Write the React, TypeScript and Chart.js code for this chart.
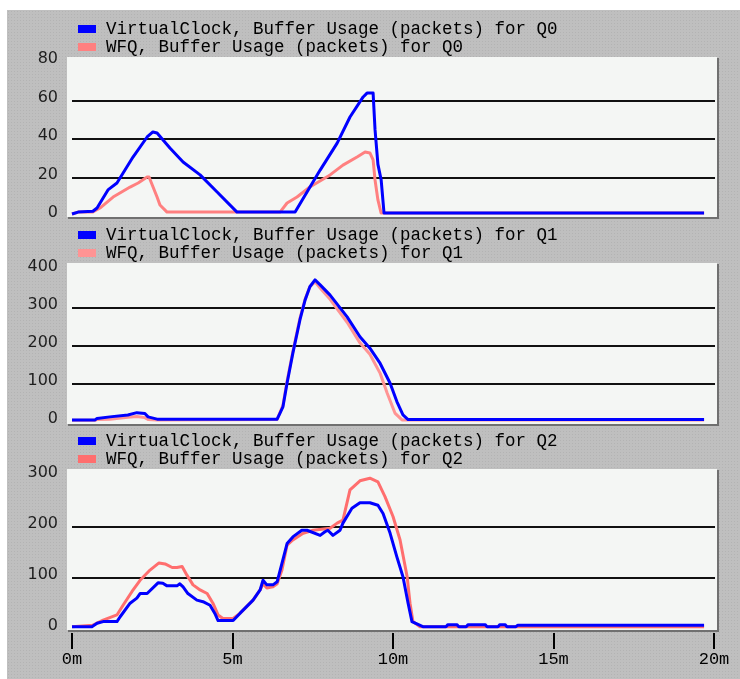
import React, { useEffect, useRef } from 'react';
import { Chart, registerables } from 'chart.js';

Chart.register(...registerables);

const MONO = '"Liberation Mono", "DejaVu Sans Mono", monospace';
const SANS = '"DejaVu Sans", "Liberation Sans", sans-serif';

// ---------- X axis (minutes) ----------
const xTickValues = [0, 5, 10, 15, 20];
const xMin = -0.156;
const xMax = 20.093;

// ---------- Q0 ----------
const q0Label = ['VirtualClock, Buffer Usage (packets) for Q0', 'WFQ, Buffer Usage (packets) for Q0'];
const q0YTicks = [0, 20, 40, 60, 80];
const q0VcTime = [0, 0.19, 0.65, 0.78, 1.12, 1.4, 1.9, 2.34, 2.52, 2.65, 3.05, 3.46, 3.99, 4.52, 5.14, 6.95, 7.73, 8.26, 8.66, 9.07, 9.19, 9.38, 9.44, 9.53, 9.63, 9.72, 19.69];
const q0VcValue = [1.2, 2.2, 2.6, 4.3, 13.7, 17.3, 30.8, 41.2, 43.8, 43.3, 35.5, 28.2, 21.5, 12.6, 2.2, 2.2, 24, 38, 51.6, 62, 64, 64, 45, 27, 19, 1.7, 1.7];
const q0WfqTime = [0, 0.19, 0.65, 0.87, 1.28, 1.81, 2.06, 2.34, 2.4, 2.65, 2.74, 2.96, 6.48, 6.7, 7.01, 7.41, 8.04, 8.44, 8.88, 9.13, 9.28, 9.38, 9.44, 9.53, 9.63, 19.69];
const q0WfqValue = [1.2, 2.2, 2.2, 4.3, 10, 15.2, 17.3, 20.4, 20.4, 10, 5.9, 2.2, 2.2, 6.9, 10, 15.2, 21.5, 26.6, 30.8, 33.4, 32.9, 29.3, 18.9, 8.5, 1.7, 1.7];

// ---------- Q1 ----------
const q1Label = ['VirtualClock, Buffer Usage (packets) for Q1', 'WFQ, Buffer Usage (packets) for Q1'];
const q1YTicks = [0, 100, 200, 300, 400];
const q1VcTime = [0, 0.72, 0.78, 1.18, 1.74, 2.02, 2.27, 2.37, 2.65, 6.39, 6.48, 6.57, 6.7, 6.88, 7.1, 7.26, 7.41, 7.57, 7.73, 8.04, 8.57, 8.97, 9.28, 9.6, 9.91, 10.12, 10.31, 10.47, 19.69];
const q1VcValue = [6, 6, 10, 14, 19, 25, 23, 14, 8, 8, 24, 40, 103, 181, 268, 320, 355, 373, 360, 333, 276, 224, 194, 154, 102, 54, 19, 7, 7];
const q1WfqTime = [0, 0.72, 0.78, 1.18, 1.74, 2.02, 2.27, 2.37, 2.65, 6.39, 6.48, 6.57, 6.7, 6.88, 7.1, 7.26, 7.41, 7.57, 7.73, 8.04, 8.57, 8.97, 9.28, 9.6, 9.82, 10.06, 10.28, 19.69];
const q1WfqValue = [5, 5, 7, 8, 13, 15, 12, 7, 6, 7, 26, 44, 108, 185, 272, 322, 355, 368, 352, 322, 262, 208, 178, 128, 76, 24, 6, 6];

// ---------- Q2 ----------
const q2Label = ['VirtualClock, Buffer Usage (packets) for Q2', 'WFQ, Buffer Usage (packets) for Q2'];
const q2YTicks = [0, 100, 200, 300];
const q2VcTime = [0, 0.62, 0.78, 0.97, 1.4, 1.5, 1.81, 2.02, 2.12, 2.34, 2.68, 2.83, 2.96, 3.27, 3.36, 3.46, 3.61, 3.89, 4.08, 4.3, 4.45, 4.55, 5.02, 5.23, 5.64, 5.86, 5.95, 6.07, 6.26, 6.39, 6.54, 6.7, 6.88, 7.16, 7.32, 7.73, 7.88, 7.97, 8.13, 8.35, 8.44, 8.72, 8.97, 9.28, 9.53, 9.69, 9.91, 10.12, 10.31, 10.47, 10.59, 10.93, 11.65, 11.71, 11.99, 12.05, 12.28, 12.34, 12.87, 12.93, 13.27, 13.33, 13.49, 13.55, 13.83, 13.89, 19.69];
const q2VcValue = [4, 4, 10.6, 14, 14, 23.5, 50, 60, 69, 69, 90, 89, 84, 84, 88, 82, 69, 56, 53, 46, 30, 16, 16, 30, 56, 76, 95, 86, 86, 92, 128, 167, 180, 193, 193, 183, 190, 193, 183, 193, 207, 236, 247, 247, 242, 226, 187, 141, 102, 50, 14, 4, 4, 8, 8, 4, 4, 8, 8, 4, 4, 8, 8, 4, 4, 7, 7];
const q2WfqTime = [0, 0.65, 0.97, 1.4, 1.59, 1.87, 2.12, 2.43, 2.71, 2.9, 3.12, 3.27, 3.43, 3.58, 3.77, 3.99, 4.21, 4.39, 4.55, 4.7, 5.02, 5.23, 5.64, 5.86, 5.95, 6.07, 6.26, 6.39, 6.54, 6.7, 6.88, 7.2, 7.51, 8.04, 8.26, 8.44, 8.66, 8.97, 9.28, 9.53, 9.75, 10.0, 10.22, 10.44, 10.53, 10.62, 10.84, 19.69];
const q2WfqValue = [4, 7, 17, 27, 46, 73, 95, 115, 129, 127, 120, 120, 122, 105, 86, 76, 69, 50, 27, 20, 20, 30, 56, 76, 88, 80, 82, 88, 115, 164, 174, 187, 193, 197, 207, 213, 272, 290, 295, 288, 259, 220, 174, 102, 50, 14, 4, 4];

const BLUE = '#0000ff';

type Series = { label: string; time: number[]; value: number[]; color: string };
type PanelSpec = {
  top: number;
  height: number;
  padTop: number;
  padBottom: number;
  yMin: number;
  yMax: number;
  yTicks: number[];
  showX: boolean;
  series: Series[];
};

const panels: PanelSpec[] = [
  {
    top: 0, height: 222, padTop: 57, padBottom: 5, yMin: -0.36, yMax: 82.75, yTicks: q0YTicks, showX: false,
    series: [
      { label: q0Label[0], time: q0VcTime, value: q0VcValue, color: BLUE },
      { label: q0Label[1], time: q0WfqTime, value: q0WfqValue, color: '#ff8080' },
    ],
  },
  {
    top: 222, height: 208, padTop: 41, padBottom: 6, yMin: -4.7, yMax: 417.3, yTicks: q1YTicks, showX: false,
    series: [
      { label: q1Label[0], time: q1VcTime, value: q1VcValue, color: BLUE },
      { label: q1Label[1], time: q1WfqTime, value: q1WfqValue, color: '#ff9494' },
    ],
  },
  {
    top: 430, height: 249, padTop: 39, padBottom: 9, yMin: -2.5, yMax: 313.1, yTicks: q2YTicks, showX: true,
    series: [
      { label: q2Label[0], time: q2VcTime, value: q2VcValue, color: BLUE },
      { label: q2Label[1], time: q2WfqTime, value: q2WfqValue, color: '#ff6e6e' },
    ],
  },
];

const decorPlugin = {
  id: 'panelDecor',
  beforeDraw(chart: any) {
    const { ctx, chartArea: a } = chart;
    ctx.save();
    ctx.fillStyle = '#f4f6f4';
    ctx.fillRect(a.left, a.top, a.right - a.left, a.bottom - a.top);
    ctx.fillStyle = '#707070';
    ctx.fillRect(a.right, a.top + 1, 2, a.bottom - a.top + 1);
    ctx.fillRect(a.left + 1, a.bottom, a.right - a.left + 1, 2);
    ctx.restore();
  },
  beforeDatasetsDraw(chart: any) {
    const { ctx } = chart;
    const xs = chart.scales.x;
    const ys = chart.scales.y;
    const ticks = ys.ticks.map((t: any) => t.value);
    const x0 = xs.getPixelForValue(xTickValues[0]);
    const x1 = xs.getPixelForValue(xTickValues[xTickValues.length - 1]) + 1;
    ctx.save();
    ctx.strokeStyle = '#111111';
    ctx.lineWidth = 2;
    for (let i = 1; i < ticks.length - 1; i++) {
      const y = Math.round(ys.getPixelForValue(ticks[i]));
      ctx.beginPath();
      ctx.moveTo(x0, y);
      ctx.lineTo(x1, y);
      ctx.stroke();
    }
    ctx.restore();
  },
  afterDraw(chart: any) {
    const { ctx, chartArea: a } = chart;
    const baselines = [a.top - 23, a.top - 5];
    ctx.save();
    ctx.font = '17.5px ' + MONO;
    ctx.textBaseline = 'alphabetic';
    ctx.textAlign = 'left';
    chart.data.datasets.forEach((ds: any, i: number) => {
      const b = baselines[i];
      ctx.fillStyle = ds.borderColor;
      ctx.fillRect(78, b - 9, 18, 8);
      ctx.fillStyle = '#000000';
      ctx.fillText(ds.label, 106, b);
    });
    ctx.restore();
  },
};

function buildConfig(p: PanelSpec): any {
  return {
    type: 'line',
    data: {
      datasets: p.series.map((s) => ({
        label: s.label,
        data: s.time.map((t, i) => ({ x: t, y: s.value[i] })),
        borderColor: s.color,
        backgroundColor: s.color,
        borderWidth: 3,
        pointRadius: 0,
        tension: 0,
        fill: false,
        borderJoinStyle: 'round',
      })),
    },
    options: {
      animation: false,
      responsive: false,
      devicePixelRatio: 1,
      events: [],
      layout: { padding: { left: 0, right: 23, top: p.padTop, bottom: p.padBottom } },
      plugins: { legend: { display: false }, tooltip: { enabled: false } },
      scales: {
        x: {
          type: 'linear',
          min: xMin,
          max: xMax,
          display: p.showX,
          afterBuildTicks: (s: any) => {
            s.ticks = xTickValues.map((v) => ({ value: v }));
          },
          afterFit: (s: any) => {
            s.height = p.showX ? 40 : 0;
            s.paddingLeft = 0;
            s.paddingRight = 0;
          },
          grid: { drawOnChartArea: false, drawTicks: true, tickLength: 19, color: '#000000', lineWidth: 2 },
          border: { display: true, color: 'rgba(0,0,0,0)', width: 6 },
          ticks: {
            callback: (v: any) => v + 'm',
            font: { family: MONO, size: 17 },
            color: '#000000',
            padding: 0,
            maxRotation: 0,
            autoSkip: false,
          },
        },
        y: {
          type: 'linear',
          min: p.yMin,
          max: p.yMax,
          afterBuildTicks: (s: any) => {
            s.ticks = p.yTicks.map((v) => ({ value: v }));
          },
          afterFit: (s: any) => {
            s.width = 67;
            s.paddingTop = 0;
            s.paddingBottom = 0;
          },
          grid: { display: false, drawTicks: false },
          border: { display: false },
          ticks: {
            font: { family: SANS, size: 16 },
            color: '#1e1e1e',
            padding: 9,
            labelOffset: -3,
          },
        },
      },
    },
    plugins: [decorPlugin],
  };
}

function Panel({ spec }: { spec: PanelSpec }) {
  const ref = useRef<HTMLCanvasElement | null>(null);
  useEffect(() => {
    if (!ref.current) return;
    const chart = new Chart(ref.current, buildConfig(spec));
    return () => chart.destroy();
  }, [spec]);
  return (
    <canvas
      ref={ref}
      width={740}
      height={spec.height}
      style={{ position: 'absolute', left: 0, top: spec.top, width: 740, height: spec.height, display: 'block' }}
    />
  );
}

export default function App() {
  return (
    <div style={{ position: 'absolute', left: 0, top: 0, width: 740, height: 679, background: '#ffffff', overflow: 'hidden' }}>
      <div
        style={{
          position: 'absolute',
          left: 7,
          top: 10,
          width: 733,
          height: 669,
          backgroundColor: '#bfbfbf',
          backgroundImage: 'radial-gradient(circle, #b3b3b3 0.6px, rgba(0,0,0,0) 0.9px)',
          backgroundSize: '3px 3px',
        }}
      />
      {panels.map((p, i) => (
        <Panel key={i} spec={p} />
      ))}
    </div>
  );
}
